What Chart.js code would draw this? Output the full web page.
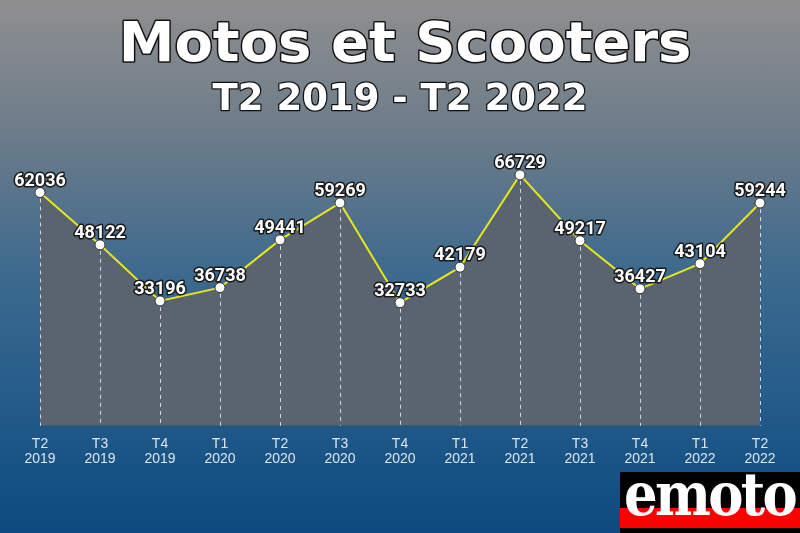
<!DOCTYPE html>
<html>
<head>
<meta charset="utf-8">
<script src="https://cdn.jsdelivr.net/npm/chart.js@4/dist/chart.umd.min.js"></script>
<style>
  html, body { margin: 0; padding: 0; }
  body {
    width: 800px; height: 533px; overflow: hidden; position: relative;
    background: linear-gradient(to bottom, #8f8f8f 0%, #6c7c89 25%, #3f6b8e 50%, #245c8a 75%, #0c4a7f 100%);
  }
  #wrap { position: absolute; left: 0; top: 0; width: 800px; height: 533px; }
  .logo {
    position: absolute; left: 620px; top: 472px; width: 180px; height: 61px;
    background: #000; overflow: hidden;
  }
  .logo .band { position: absolute; left: 0; right: 0; top: 36px; height: 20px; background: #f00; }
  .logo .txt {
    position: absolute; left: 4px; top: -13px; width: 174px; text-align: center;
    font-family: 'DejaVu Serif', serif; font-weight: bold; font-size: 60px;
    color: #fff; letter-spacing: -3px; transform: scaleX(0.88); transform-origin: left;
  }
</style>
</head>
<body>
<div id="wrap"><canvas id="chart" width="800" height="533"></canvas></div>
<div class="logo"><div class="band"></div><div class="txt">emoto</div></div>
<script>
// Données
const TITLE    = 'Motos et Scooters';
const SUBTITLE = 'T2 2019 - T2 2022';
const QUARTERS = ['T2','T3','T4','T1','T2','T3','T4','T1','T2','T3','T4','T1','T2'];
const YEARS    = ['2019','2019','2019','2020','2020','2020','2020','2021','2021','2021','2021','2022','2022'];
const VALUES   = [62036, 48122, 33196, 36738, 49441, 59269, 32733, 42179, 66729, 49217, 36427, 43104, 59244];

/** Titre + sous-titre, texte blanc avec contour sombre */
const titlePlugin = {
  id: 'titles',
  afterDraw(chart) {
    const ctx = chart.ctx;
    ctx.save();
    ctx.textAlign = 'center';
    ctx.textBaseline = 'alphabetic';
    ctx.lineJoin = 'round';
    ctx.strokeStyle = '#111';
    ctx.fillStyle = '#fff';
    ctx.font = "bold 56px 'DejaVu Sans'";
    ctx.lineWidth = 3;
    ctx.strokeText(TITLE, 405, 61);
    ctx.fillText(TITLE, 405, 61);
    ctx.font = "bold 37px 'DejaVu Sans'";
    ctx.lineWidth = 2.5;
    ctx.strokeText(SUBTITLE, 400, 110);
    ctx.fillText(SUBTITLE, 400, 110);
    ctx.restore();
  }
};

/** Lignes verticales pointillées sous chaque point + étiquettes de valeurs */
const dropLines = {
  id: 'dropLines',
  afterDatasetDraw(chart) {
    const ctx = chart.ctx;
    const meta = chart.getDatasetMeta(0);
    const bottom = chart.chartArea.bottom;
    ctx.save();
    ctx.strokeStyle = 'rgba(255,255,255,0.75)';
    ctx.lineWidth = 1;
    ctx.setLineDash([4, 4]);
    meta.data.forEach(pt => {
      ctx.beginPath();
      ctx.moveTo(Math.round(pt.x) + 0.5, pt.y + 6);
      ctx.lineTo(Math.round(pt.x) + 0.5, bottom);
      ctx.stroke();
    });
    ctx.restore();

    ctx.save();
    ctx.font = "bold 18px Roboto";
    ctx.textAlign = 'center';
    ctx.textBaseline = 'alphabetic';
    ctx.lineJoin = 'round';
    ctx.lineWidth = 3;
    ctx.strokeStyle = '#1a1a1a';
    ctx.fillStyle = '#fff';
    meta.data.forEach((pt, i) => {
      const s = String(VALUES[i]);
      ctx.strokeText(s, pt.x, pt.y - 7);
      ctx.fillText(s, pt.x, pt.y - 7);
    });
    ctx.restore();
  }
};

new Chart(document.getElementById('chart'), {
  type: 'line',
  data: {
    labels: QUARTERS.map((q, i) => [q, YEARS[i]]),
    datasets: [{
      data: VALUES,
      borderColor: '#e6e61e',
      borderWidth: 2,
      backgroundColor: '#5a6370',
      fill: 'origin',
      tension: 0,
      pointRadius: 5,
      pointBackgroundColor: '#fff',
      pointBorderColor: '#333',
      pointBorderWidth: 1,
    }],
  },
  options: {
    responsive: false, animation: false,
    layout: { padding: { top: 125, left: 40, right: 40, bottom: 55 } },
    plugins: { legend: { display: false }, tooltip: { enabled: false } },
    scales: {
      x: {
        offset: false,
        grid: { display: false, drawTicks: false },
        border: { display: false },
        ticks: {
          color: '#dde4ee', padding: 11, maxRotation: 0, autoSkip: false,
          font: { family: "'Liberation Sans'", size: 14, lineHeight: 1.08 },
        },
      },
      y: { display: false, min: 0, max: 80000 },
    },
  },
  plugins: [titlePlugin, dropLines],
});
</script>
</body>
</html>
